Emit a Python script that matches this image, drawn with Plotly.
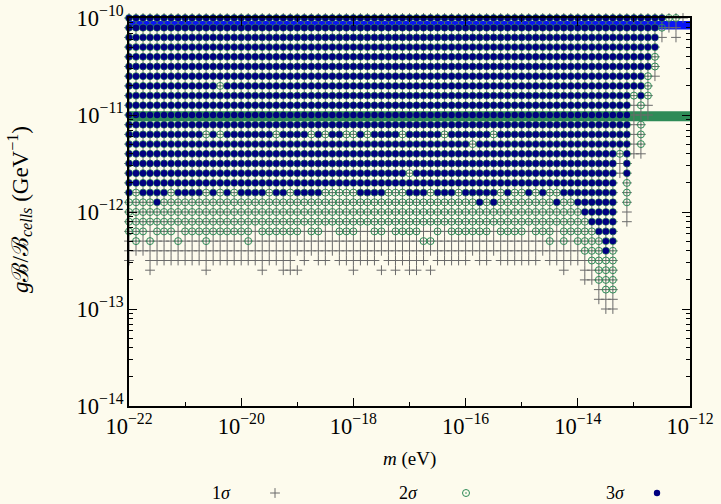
import plotly.graph_objects as go

# ---------------- data ----------------
# grid of masses (log10 m / eV), 8 points per decade
m_log = [
    -22.0, -21.875, -21.75, -21.625, -21.5, -21.375, -21.25, -21.125,
    -21.0, -20.875, -20.75, -20.625, -20.5, -20.375, -20.25, -20.125,
    -20.0, -19.875, -19.75, -19.625, -19.5, -19.375, -19.25, -19.125,
    -19.0, -18.875, -18.75, -18.625, -18.5, -18.375, -18.25, -18.125,
    -18.0, -17.875, -17.75, -17.625, -17.5, -17.375, -17.25, -17.125,
    -17.0, -16.875, -16.75, -16.625, -16.5, -16.375, -16.25, -16.125,
    -16.0, -15.875, -15.75, -15.625, -15.5, -15.375, -15.25, -15.125,
    -15.0, -14.875, -14.75, -14.625, -14.5, -14.375, -14.25, -14.125,
    -14.0, -13.875, -13.75, -13.625, -13.5, -13.375, -13.25, -13.125,
    -13.0, -12.875, -12.75, -12.625, -12.5, -12.375, -12.25, -12.125,
    -12.0,
]
# grid of couplings (log10 gB/B_cells / GeV^-1), one row each
g_log = [
    -10.0, -10.1, -10.2, -10.3, -10.4, -10.5, -10.6, -10.7, -10.8, -10.9,
    -11.0, -11.1, -11.2, -11.3, -11.4, -11.5, -11.6, -11.7, -11.8, -11.9,
    -12.0, -12.1, -12.2, -12.3, -12.4, -12.5, -12.6, -12.7, -12.8, -12.9,
    -13.0,
]
# exclusion level of each grid cell, run-length coded per row (level:count)
# '.' none, '1' = 1 sigma, '2' = 2 sigma, '3' = 3 sigma
rows_rle = [
    "3:77 2:2 1:1",
    "3:76 2:1 1:2",
    "3:76 1:1 .:1 1:1",
    "3:76",
    "3:75 2:1",
    "3:75 2:1",
    "3:74 2:1 1:1",
    "3:13 2:1 3:60 2:1",
    "3:72 2:1 3:1 2:1",
    "3:72 1:1 2:1 1:1",
    "3:72 1:3",
    "3:72 1:1 2:1",
    "3:11 2:1 3:1 2:1 3:7 2:1 3:4 2:1 3:1 2:1 3:2 2:2 3:1 2:1 3:4 2:1 3:5 2:1 3:6 2:1 3:19 1:1 2:1",
    "3:49 2:1 3:22 1:1 2:1",
    "3:70 2:1 3:1 1:2",
    "3:70 1:1 3:1",
    "3:40 2:1 3:29 1:1 3:1",
    "3:70 .:1 2:1",
    "3:1 2:1 3:4 2:1 3:4 2:1 3:1 2:1 3:1 2:1 3:4 2:1 3:2 2:1 3:4 2:5 3:4 2:3 3:3 2:1 3:3 2:1 3:5 2:1 3:1 2:2 3:1 2:1 3:1 2:2 3:8 .:1 2:1",
    "2:4 3:1 2:45 3:1 2:1 3:1 2:8 3:1 2:2 3:6 .:1 2:1",
    "2:65 3:5 .:1 1:1",
    "2:66 3:4 .:1 1:1",
    "2:3 1:1 2:3 1:1 2:10 1:1 2:6 1:1 2:2 1:2 2:3 1:2 2:2 1:1 2:4 1:2 2:1 1:1 2:6 1:1 2:4 1:1 2:3 1:1 2:5 3:3",
    "1:1 2:1 1:1 2:1 1:3 2:1 1:3 2:1 1:5 2:1 1:24 2:2 1:16 2:1 1:1 2:1 1:1 2:4 3:2",
    "1:65 2:3 3:1 2:1",
    "1:1 .:2 1:21 .:1 1:1 .:1 1:2 .:1 1:6 .:1 1:6 .:1 1:5 .:1 1:2 .:1 1:6 .:1 1:6 2:4",
    ".:3 1:1 .:7 1:1 .:7 1:1 .:2 1:3 .:7 1:1 .:3 1:1 .:1 1:1 .:1 1:2 .:1 1:1 .:18 1:1 .:2 1:2 2:3",
    ".:65 1:2 2:3",
    ".:67 1:1 2:2",
    ".:67 1:3",
    ".:68 1:2",
]
# horizontal bands (m range and g range)
band_m = [1e-22, 1e-12]
blue_band_g = [7.6e-11, 9.3e-11]
green_band_g = [8.6e-12, 1.09e-11]

legend_labels = ["1<i>σ</i>", "2<i>σ</i>", "3<i>σ</i>"]
legend_names = ["1σ", "2σ", "3σ"]

# ---------------- build point sets ----------------
pts = {1: ([], []), 2: ([], []), 3: ([], [])}
for j, row in enumerate(rows_rle):
    k = 0
    for tok in row.split():
        lev, cnt = tok.split(":")
        cnt = int(cnt)
        for _ in range(cnt):
            if lev != ".":
                L = int(lev)
                for s in range(1, L + 1):
                    pts[s][0].append(10 ** m_log[k])
                    pts[s][1].append(10 ** g_log[j])
            k += 1

BG = "#fdfbed"
FONT = "Liberation Serif"
fig = go.Figure()

def band(gr, color):
    fig.add_trace(go.Scatter(
        x=[band_m[0], band_m[1], band_m[1], band_m[0], band_m[0]],
        y=[gr[0], gr[0], gr[1], gr[1], gr[0]],
        mode="lines", fill="toself", fillcolor=color,
        line=dict(width=0, color=color), showlegend=False, hoverinfo="skip"))

band(blue_band_g, "#0a14f5")
band(green_band_g, "#2e8b57")

fig.add_trace(go.Scatter(
    x=pts[1][0], y=pts[1][1], mode="markers", name=legend_names[0], cliponaxis=False,
    marker=dict(symbol="cross-thin-open", size=7, line=dict(width=1, color="#6a6a6a"), color="#6a6a6a"),
    legend="legend"))
fig.add_trace(go.Scatter(
    x=pts[2][0], y=pts[2][1], mode="markers", name=legend_names[1], cliponaxis=False,
    marker=dict(symbol="circle-open-dot", size=7, line=dict(width=1, color="#2e8b57"), color="#2e8b57"),
    legend="legend2"))
fig.add_trace(go.Scatter(
    x=pts[3][0], y=pts[3][1], mode="markers", name=legend_names[2], cliponaxis=False,
    marker=dict(symbol="circle", size=6.4, color="#000080", line=dict(width=0)),
    legend="legend3"))

LEG_Y = 493
sym_px = [274, 465, 656]
lab_px = [221, 408, 615]
leg_common = dict(orientation="h", xref="container", yref="container",
                  xanchor="left", yanchor="middle", bgcolor="rgba(0,0,0,0)",
                  font=dict(family=FONT, size=1, color="rgba(0,0,0,0)"))
fig.update_layout(
    legend=dict(x=(sym_px[0] - 19) / 721, y=(504 - LEG_Y) / 504, **leg_common),
    legend2=dict(x=(sym_px[1] - 19) / 721, y=(504 - LEG_Y) / 504, **leg_common),
    legend3=dict(x=(sym_px[2] - 19) / 721, y=(504 - LEG_Y) / 504, **leg_common),
)
for lab, px in zip(legend_labels, lab_px):
    fig.add_annotation(text=lab, xref="paper", yref="paper",
                       x=(px - 129) / 561, y=(406 - LEG_Y) / 388,
                       showarrow=False, xanchor="center", yanchor="middle",
                       font=dict(family=FONT, size=18, color="black"))

# axis titles
fig.add_annotation(text="<i>g</i>ℬ/ℬ<sub><i>cells</i></sub> (GeV<sup>−1</sup>)",
                   xref="paper", yref="paper", x=(19 - 129) / 561, y=(406 - 210) / 388,
                   textangle=-90, showarrow=False, xanchor="center", yanchor="middle",
                   font=dict(family=FONT, size=23, color="black"))
fig.add_annotation(text="<i>m</i> (eV)",
                   xref="paper", yref="paper", x=0.5, y=(406 - 459) / 388,
                   showarrow=False, xanchor="center", yanchor="middle",
                   font=dict(family=FONT, size=19, color="black"))

axis_common = dict(
    type="log", showgrid=False, zeroline=False, showline=True, linecolor="black",
    linewidth=1.5, mirror="ticks", ticks="inside", ticklen=8, tickwidth=1,
    tickcolor="black", exponentformat="power", showexponent="all",
    tickfont=dict(family=FONT, size=18, color="black"),
)
fig.update_xaxes(range=[-22, -12], dtick=2,
                 minor=dict(dtick=1, ticks="inside", ticklen=4, tickcolor="black"),
                 **axis_common)
fig.update_yaxes(range=[-14, -10], dtick=1,
                 minor=dict(dtick="D1", ticks="inside", ticklen=4, tickcolor="black"),
                 **axis_common)

fig.update_layout(
    width=721, height=504, autosize=False,
    margin=dict(l=129, r=31, t=18, b=98, autoexpand=False),
    paper_bgcolor=BG, plot_bgcolor=BG,
    font=dict(family=FONT, color="black"),
)
fig.write_html("out.html")
